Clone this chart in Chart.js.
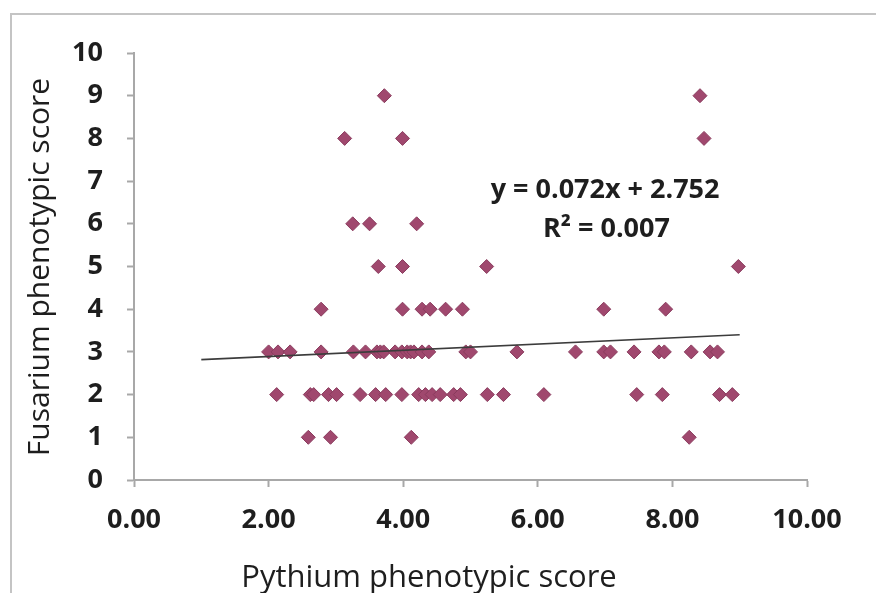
<!DOCTYPE html>
<html>
<head>
<meta charset="utf-8">
<script src="https://cdn.jsdelivr.net/npm/chart.js@4.4.0/dist/chart.umd.min.js"></script>
<style>
    body { margin: 0; background: #fff; }
    #quadro { position: relative; width: 876px; height: 593px; overflow: hidden; }
    #moldura { position: absolute; left: 10px; top: 13px; width: 900px; height: 620px;
               border-top: 2px solid #c4c4c4; border-left: 2px solid #c4c4c4; }
    #grafico { position: absolute; left: 0; top: 0; }
</style>
</head>
<body>
<div id="quadro">
    <div id="moldura"></div>
    <canvas id="grafico" width="876" height="593"></canvas>
</div>
<script>
// valores (x = Pythium, y = Fusarium)
var pythiumScore = [
    3.72, 8.41,
    3.13, 3.99, 8.47,
    3.25, 3.50, 4.20,
    3.63, 3.99, 5.24, 8.98,
    2.78, 3.99, 4.28, 4.40, 4.63, 4.88, 6.98, 7.90,
    2.00, 2.14, 2.32, 2.78, 3.26, 3.44, 3.61, 3.66, 3.71, 3.88, 3.98, 4.06, 4.11, 4.16, 4.28, 4.38,
    4.93, 5.00, 5.69, 6.56, 6.98, 7.08, 7.43, 7.80, 7.88, 8.28, 8.56, 8.67,
    2.12, 2.62, 2.67, 2.89, 3.01, 3.36, 3.59, 3.74, 3.98, 4.23, 4.33, 4.43, 4.55, 4.75, 4.85,
    5.25, 5.49, 6.09, 7.47, 7.85, 8.70, 8.89,
    2.59, 2.92, 4.12, 8.25
];
var fusariumScore = [
    9, 9,
    8, 8, 8,
    6, 6, 6,
    5, 5, 5, 5,
    4, 4, 4, 4, 4, 4, 4, 4,
    3, 3, 3, 3, 3, 3, 3, 3, 3, 3, 3, 3, 3, 3, 3, 3,
    3, 3, 3, 3, 3, 3, 3, 3, 3, 3, 3, 3,
    2, 2, 2, 2, 2, 2, 2, 2, 2, 2, 2, 2, 2, 2, 2,
    2, 2, 2, 2, 2, 2, 2,
    1, 1, 1, 1
];

// linha de tendencia (pontas)
var tendenciaX = [1, 9];
var tendenciaY = [2.82, 3.40];

var ticksX = [0, 2, 4, 6, 8, 10];
var equacao = 'y = 0.072x + 2.752';
var rQuadrado = 'R² = 0.007';
var tituloX = 'Pythium phenotypic score';
var tituloY = 'Fusarium phenotypic score';

var fonte = '"Open Sans", Lato, sans-serif';

let pontos = [];
for (var i = 0; i < pythiumScore.length; i++) {
    pontos.push({ x: pythiumScore[i], y: fusariumScore[i] });
}
let linha = [];
for (var j = 0; j < tendenciaX.length; j++) {
    linha.push({ x: tendenciaX[j], y: tendenciaY[j] });
}

// textos extras: equacao e titulos dos eixos
const textosPlugin = {
    id: 'textos',
    afterDraw(chart) {
        const ctx = chart.ctx;
        const sx = chart.scales.x;
        const sy = chart.scales.y;
        ctx.save();
        ctx.fillStyle = '#1e1e1e';
        ctx.textAlign = 'center';
        ctx.textBaseline = 'middle';
        ctx.font = 'bold 27px ' + fonte;
        ctx.fillText(equacao, sx.getPixelForValue(7.0), sy.getPixelForValue(6.78));
        ctx.fillText(rQuadrado, sx.getPixelForValue(7.02), sy.getPixelForValue(5.88));

        ctx.font = '31px ' + fonte;
        ctx.fillText(tituloX, 429, 578);

        ctx.font = '30px ' + fonte;
        ctx.translate(40, 267);
        ctx.rotate(-Math.PI / 2);
        ctx.fillText(tituloY, 0, 0);
        ctx.restore();
    }
};

const config = {
    type: 'scatter',
    data: {
        datasets: [{
            label: 'Pontos',
            data: pontos,
            pointStyle: 'rectRot',
            pointRadius: 7,
            backgroundColor: '#a0486e',
            borderColor: '#8a3c5e',
            borderWidth: 1,
            order: 1
        },
        {
            label: 'Tendencia',
            type: 'line',
            data: linha,
            borderColor: '#3c3c3c',
            borderWidth: 1.6,
            pointRadius: 0,
            fill: false,
            order: 0
        }]
    },
    options: {
        responsive: false,
        animation: false,
        layout: {
            padding: { left: 0, right: 69, top: 53, bottom: 0 }
        },
        scales: {
            x: {
                type: 'linear',
                min: 0,
                max: 10,
                afterBuildTicks: function (eixo) {
                    eixo.ticks = ticksX.map(v => ({ value: v }));
                },
                afterFit: function (eixo) { eixo.height = 113; },
                grid: {
                    drawOnChartArea: false,
                    drawTicks: true,
                    tickLength: 7,
                    tickWidth: 2,
                    tickColor: '#a8a8a8'
                },
                border: { color: '#a8a8a8', width: 2 },
                ticks: {
                    padding: 17,
                    color: '#1e1e1e',
                    font: { family: fonte, size: 27, weight: 'bold' },
                    callback: v => Number(v).toFixed(2)
                }
            },
            y: {
                type: 'linear',
                min: 0,
                max: 10,
                afterFit: function (eixo) { eixo.width = 134; },
                grid: {
                    drawOnChartArea: false,
                    drawTicks: true,
                    tickLength: 7,
                    tickWidth: 2,
                    tickColor: '#a8a8a8'
                },
                border: { color: '#a8a8a8', width: 2 },
                ticks: {
                    stepSize: 1,
                    padding: 24,
                    color: '#1e1e1e',
                    font: { family: fonte, size: 27, weight: 'bold' }
                }
            }
        },
        plugins: {
            legend: { display: false },
            tooltip: { enabled: false }
        }
    },
    plugins: [textosPlugin]
};

let grafico = new Chart(
    document.getElementById('grafico'),
    config
);
</script>
</body>
</html>
